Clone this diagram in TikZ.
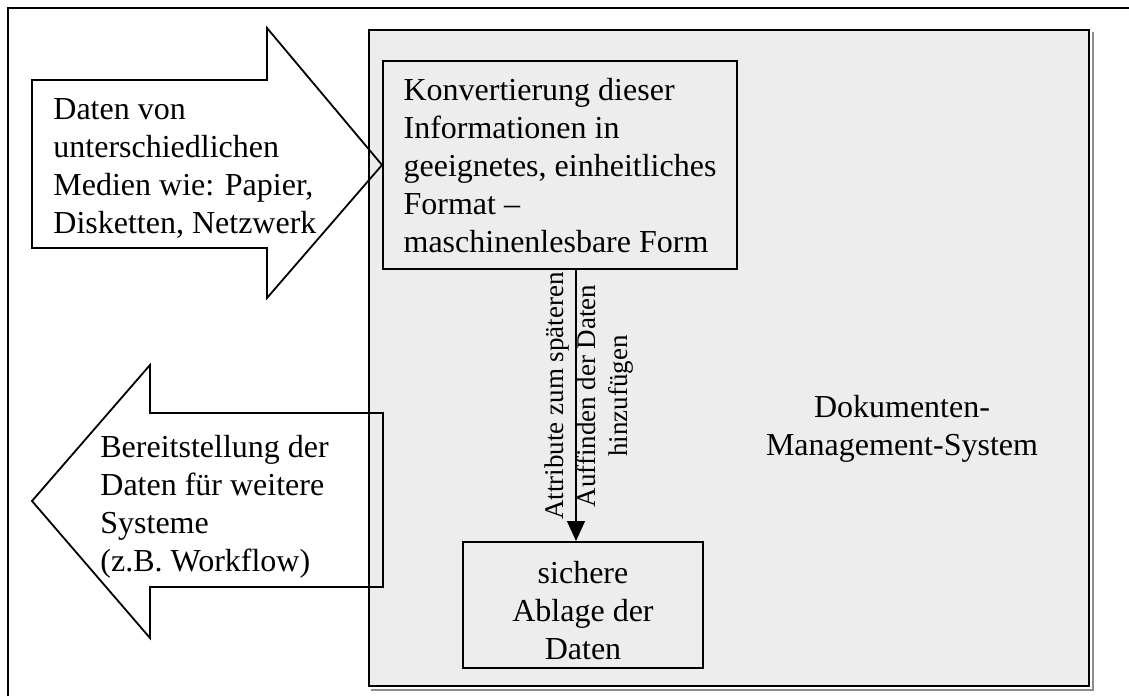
\documentclass[tikz,border=0pt]{standalone}
\usepackage{fontspec}
\setmainfont{Liberation Serif}
\usetikzlibrary{arrows.meta,calc}
\begin{document}
\begin{tikzpicture}[x=0.5pt,y=-0.5pt,
  frame/.style={line width=1pt},
  panel/.style={draw, line width=1pt, fill=black!7, inner sep=0pt},
  shadowline/.style={draw=black!45, line width=0.8pt},
  blockarrow/.style={draw, line width=0.9pt, line join=miter},
  box/.style={draw, line width=1pt, rectangle, inner xsep=10pt, inner ysep=0pt},
  bodytext/.style={font=\fontsize{16pt}{19pt}\selectfont},
  sidetext/.style={font=\fontsize{13.5pt}{16.2pt}\selectfont},
  flow/.style={line width=0.7pt, -{Triangle[length=10pt,width=9pt]}}
]
\useasboundingbox (0,0) rectangle (1129,696);

% outer frame
\draw[frame] (8,696) -- (8,7.5) -- (1129,7.5);

% document management system panel with a faint shadow edge
\node[panel, minimum width=360pt, minimum height=328pt, anchor=north west] (dms) at (368,29) {};
\draw[shadowline] ($(dms.north east)+(3,3)$) -- ($(dms.south east)+(3,3)$) -- ($(dms.south west)+(3,3)$);
\node[bodytext, align=center, inner sep=0pt] (dmslabel) at (902,427.5)
  {\rule{0pt}{12pt}Dokumenten-\\ Management-System};

% conversion step
\node[box, bodytext, minimum width=177pt, minimum height=104pt, align=left] (konv) at (560,165)
  {\rule{0pt}{12pt}Konvertierung dieser\\ Informationen in\\ geeignetes, einheitliches\\ Format –\\ maschinenlesbare Form};

% storage step
\node[box, bodytext, minimum width=120pt, minimum height=63pt, align=center] (ablage) at (583,605)
  {\rule{0pt}{17pt}sichere\\ Ablage der\\ Daten};

% incoming data arrow
\draw[blockarrow] (32,80) -- (267,80) -- (267,28) -- (konv.west) -- (267,298) -- (267,248) -- (32,248) -- cycle;
\node[bodytext, align=left, anchor=north west, inner sep=0pt] (intext) at (53,95)
  {\rule{0pt}{12pt}Daten von\\ unterschiedlichen\\ Medien wie: Papier,\\ Disketten, Netzwerk};

% outgoing data arrow
\draw[blockarrow] (383,413) -- (150,413) -- (150,365) -- (32,501) -- (150,638) -- (150,587) -- (383,587) -- cycle;
\node[bodytext, align=left, anchor=north west, inner sep=0pt] (outtext) at (100,433)
  {\rule{0pt}{12pt}Bereitstellung der\\ Daten für weitere\\ Systeme\\ (z.B. Workflow)};

% attribute step between conversion and storage
\coordinate (flowx) at (576,0);
\draw[flow] (konv.south -| flowx) -- (ablage.north -| flowx);
\node[sidetext, rotate=90, align=center, inner sep=0pt] (attr) at (588.5,396)
  {\rule{0pt}{10pt}Attribute zum späteren\\ Auffinden der Daten\\ hinzufügen};
\end{tikzpicture}
\end{document}
